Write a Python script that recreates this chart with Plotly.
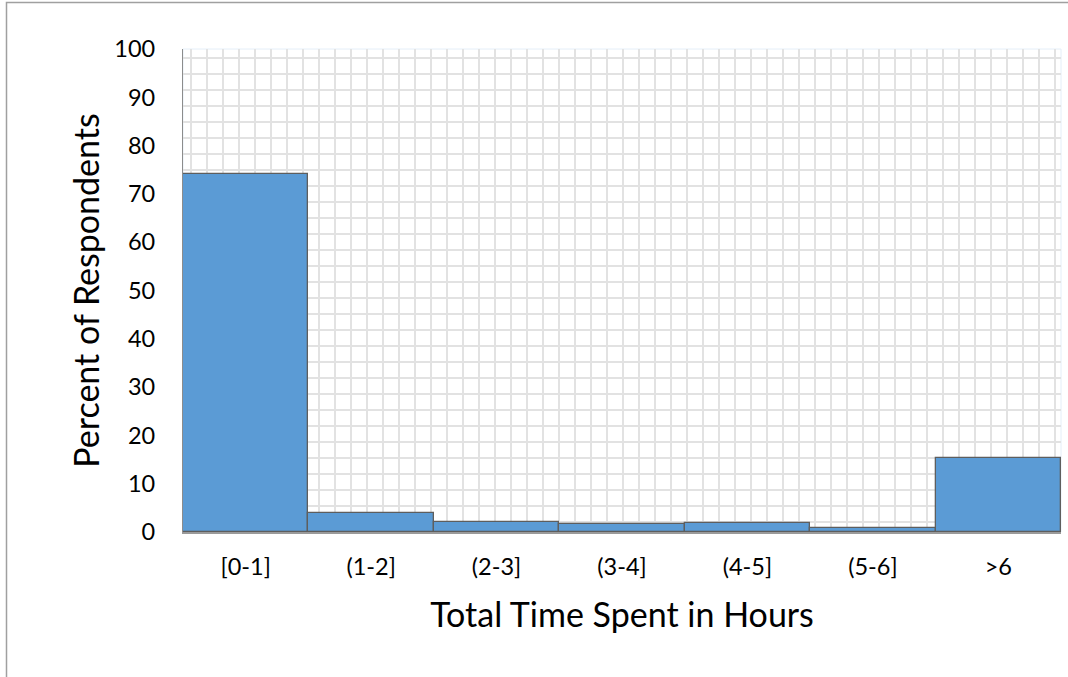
import plotly.graph_objects as go

categories = ["[0-1]", "(1-2]", "(2-3]", "(3-4]", "(4-5]", "(5-6]", ">6"]
percent = [74.1, 3.9, 2.1, 1.7, 1.9, 0.8, 15.4]
y_ticks = [0, 10, 20, 30, 40, 50, 60, 70, 80, 90, 100]

FONT = "Lato"
W, H = 1068, 677
L, R, T, B = 183, 7, 49, 145
PW, PH = W - L - R, H - T - B

fig = go.Figure()
fig.add_trace(go.Bar(
    x=categories, y=percent,
    marker=dict(color="#5B9BD5", line=dict(color="#5E5E5E", width=1.3)),
    showlegend=False, hoverinfo="x+y",
))
# invisible trace to host the pattern-grid overlay axes
fig.add_trace(go.Scatter(x=[None], y=[None], xaxis="x2", yaxis="y2",
                         showlegend=False, hoverinfo="skip"))

fig.update_layout(
    width=W, height=H,
    margin=dict(l=L, r=R, t=T, b=B),
    paper_bgcolor="white", plot_bgcolor="white",
    bargap=0,
    font=dict(family=FONT, color="#000000"),
    xaxis=dict(
        type="category", range=[-0.5, 6.5],
        showgrid=False, zeroline=False,
        showline=True, linecolor="#9A9A9A", linewidth=1.5,
        ticks="", ticklabelstandoff=13,
        tickfont=dict(size=23.5, family=FONT),
        title=dict(text="Total Time Spent in Hours", font=dict(size=34, family=FONT), standoff=24),
    ),
    yaxis=dict(
        range=[0, 100], tickvals=y_ticks,
        showgrid=False, zeroline=False,
        showline=True, linecolor="#8C8C8C", linewidth=1.3,
        ticks="", ticklabelstandoff=22,
        tickfont=dict(size=23.5, family=FONT),
        title=dict(text="Percent of Respondents", font=dict(size=34, family=FONT), standoff=4),
    ),
    xaxis2=dict(
        overlaying="x", range=[0, PW], tick0=8.4, dtick=16,
        showgrid=True, gridcolor="#E2E2E2", gridwidth=1.5,
        showticklabels=False, zeroline=False, showline=False, ticks="",
    ),
    yaxis2=dict(
        overlaying="y", range=[0, PH], tick0=9.7, dtick=16,
        showgrid=True, gridcolor="#E2E2E2", gridwidth=1.5,
        showticklabels=False, zeroline=False, showline=False, ticks="",
    ),
    shapes=[
        # faint plot-area border
        dict(type="rect", xref="paper", yref="paper", x0=0, y0=0, x1=1, y1=1,
             line=dict(color="#E4EEF8", width=1), layer="below"),
        # chart outer border (extends beyond the view on right/bottom)
        dict(type="rect", xref="paper", yref="paper",
             x0=(6.5 - L) / PW, x1=(W + 20 - L) / PW,
             y0=-(H + 20 - (T + PH)) / PH, y1=(T + PH - 2.5) / PH,
             line=dict(color="#A0A0A0", width=1.5), layer="below"),
    ],
)

fig.write_html("out.html", config={"displayModeBar": False},
               post_script="document.body.style.margin='0px';document.body.style.overflow='hidden';")
